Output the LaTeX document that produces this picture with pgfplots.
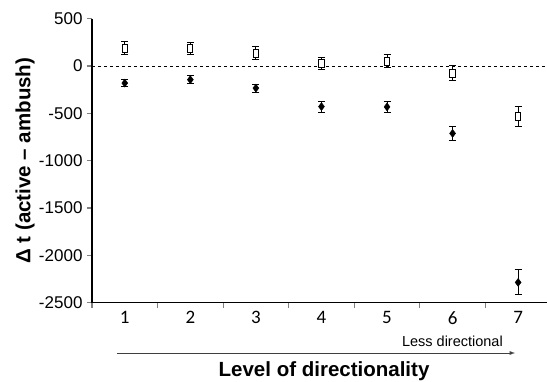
\documentclass[border=0pt]{standalone}
\usepackage{pgfplots}
\pgfplotsset{compat=1.18}
\usepackage{fontspec}
\setmainfont{Liberation Sans}
\newfontfamily\carlito{Carlito}
\begin{document}
\begin{tikzpicture}[x=1pt,y=1pt]
\begin{axis}[
  at={(0pt,0pt)}, anchor=south west,
  scale only axis, width=455pt, height=284pt,
  xmin=0.5, xmax=7.44, ymin=-2500, ymax=500,
  axis x line=bottom, axis y line=left,
  axis line style={-, line width=1.2pt},
  clip=false,
  /pgf/number format/assume math mode=true,
  ytick={-2500,-2000,...,500},
  yticklabel style={font=\fontsize{17}{17}\selectfont, /pgf/number format/set thousands separator={}, xshift=-1pt},
  xtick={1,...,7},
  minor xtick={0.5,1.5,...,6.5},
  major x tick style={draw=none},
  minor x tick style={line width=1.1pt},
  ytick style={line width=1.1pt},
  tick align=outside,
  major tick length=5pt, minor tick length=5pt,
  xticklabel style={font=\carlito\fontsize{19}{19}\selectfont, yshift=0pt},
  ylabel={Δ t (active – ambush)},
  ylabel style={font=\bfseries\fontsize{20.5}{20.5}\selectfont, at={(axis description cs:-0.147,0.5)}, anchor=center},
  xlabel={Level of directionality},
  xlabel style={font=\bfseries\fontsize{20.5}{20.5}\selectfont, at={(axis description cs:0.51,-0.2616)}, anchor=base},
]
\addplot[black, dashed, line width=1pt, forget plot] coordinates {(0.5,0) (7.44,0)};
\addplot[black, only marks, mark=square*, mark options={fill=white, line width=1pt, xscale=0.65, yscale=1.0}, mark size=4pt,
  error bars/.cd, y dir=both, y explicit, error bar style={line width=1pt}, error mark options={rotate=90, mark size=3.5pt, line width=1pt}]
  coordinates {
  (1,190) +- (0,65)
  (2,184) +- (0,60)
  (3,135) +- (0,70)
  (4,25) +- (0,65)
  (5,52) +- (0,68)
  (6,-75) +- (0,76)
  (7,-535) +- (0,105)
  };
\addplot[black, only marks, mark=diamond*, mark options={fill=black}, mark size=4pt,
  error bars/.cd, y dir=both, y explicit, error bar style={line width=1pt}, error mark options={rotate=90, mark size=3.5pt, line width=1pt}]
  coordinates {
  (1,-180) +- (0,40)
  (2,-144) +- (0,40)
  (3,-233) +- (0,42)
  (4,-428) +- (0,58)
  (5,-432) +- (0,56)
  (6,-712) +- (0,74)
  (7,-2286) +- (0,132)
  };
\end{axis}
\draw[-latex, line width=0.9pt, black!75] (25pt,-50.3pt) -- (423pt,-50.3pt);
\node[anchor=base east, font=\fontsize{14.5}{14.5}\selectfont, inner sep=0pt] at (411pt,-43.3pt) {Less directional};
\pgfresetboundingbox
\path[use as bounding box] (-92pt,-78.3pt) rectangle (455pt,302.7pt);
\end{tikzpicture}
\end{document}
